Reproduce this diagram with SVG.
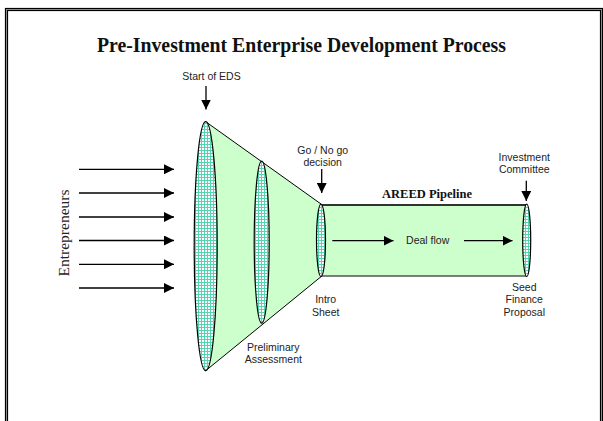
<svg xmlns="http://www.w3.org/2000/svg" width="603" height="421" viewBox="0 0 603 421">
<defs>
<pattern id="grid" width="3" height="3" patternUnits="userSpaceOnUse">
<rect width="3" height="3" fill="#ffffff"/>
<path d="M0 0.5H3M0.5 0V3" stroke="#55d4b0" stroke-width="1"/>
</pattern>
<marker id="ah" viewBox="0 0 10 10" refX="10" refY="5" markerWidth="10" markerHeight="10" markerUnits="userSpaceOnUse" orient="auto">
<path d="M0 0L10 5L0 10Z" fill="#000"/>
</marker>
</defs>
<style>
.lbl{font-family:"Liberation Sans",Arial,sans-serif;font-size:10.5px;fill:#222;text-anchor:middle}
.ttl{font-family:"Liberation Serif","Times New Roman",serif;font-weight:bold;fill:#111;text-anchor:middle}
.arr{stroke:#000;stroke-width:1.3;fill:none;marker-end:url(#ah)}
.ell{fill:url(#grid);stroke:#000;stroke-width:1.2}
</style>
<rect width="603" height="421" fill="#fff"/>
<g id="frame">
<rect x="6.5" y="9.5" width="595" height="420" fill="none" stroke="#000" stroke-width="3.2"/>
<rect x="6.5" y="9.5" width="595" height="420" fill="none" stroke="#888" stroke-width="1"/>
</g>
<g id="title"><text class="ttl" x="301.5" y="52" font-size="20" textLength="409" lengthAdjust="spacingAndGlyphs">Pre-Investment Enterprise Development Process</text></g>
<g id="funnel">
<path d="M205.7 121.7L321 204V276.7L205.7 370.7Z" fill="#ccffcc" stroke="#000" stroke-width="1"/>
</g>
<g id="pipeline">
<rect x="321" y="205" width="205.7" height="71" fill="#ccffcc"/>
<line x1="321" y1="205" x2="526.7" y2="205" stroke="#333" stroke-width="2"/>
<line x1="321" y1="276" x2="526.7" y2="276" stroke="#555" stroke-width="1.5"/>
<text class="ttl" x="427" y="198" font-size="12.5">AREED Pipeline</text>
</g>
<g id="stage-start"><ellipse class="ell" cx="205.7" cy="246.2" rx="11.5" ry="124.5"/></g>
<g id="stage-preliminary"><ellipse class="ell" cx="261.7" cy="242.2" rx="7.5" ry="81"/></g>
<g id="stage-intro"><ellipse class="ell" cx="321" cy="240.3" rx="4.5" ry="36.3"/></g>
<g id="stage-seed"><ellipse class="ell" cx="526.7" cy="240.3" rx="4" ry="36.3"/></g>
<g id="connectors">
<line class="arr" x1="79" y1="169.3" x2="174" y2="169.3"/>
<line class="arr" x1="79" y1="193" x2="174" y2="193"/>
<line class="arr" x1="79" y1="217" x2="174" y2="217"/>
<line class="arr" x1="79" y1="240.5" x2="174" y2="240.5"/>
<line class="arr" x1="79" y1="264.3" x2="174" y2="264.3"/>
<line class="arr" x1="79" y1="288" x2="174" y2="288"/>
<line class="arr" x1="206" y1="86" x2="206" y2="109.5"/>
<line class="arr" x1="321.7" y1="169" x2="321.7" y2="193"/>
<line class="arr" x1="526.3" y1="180.7" x2="526.3" y2="201"/>
<line class="arr" x1="332.3" y1="240.7" x2="393.5" y2="240.7"/>
<line class="arr" x1="464" y1="240.7" x2="512.5" y2="240.7"/>
</g>
<g id="labels">
<text x="63.3" y="233" transform="rotate(-90 63.3 233)" font-family="'Liberation Serif','Times New Roman',serif" font-size="15.5" fill="#222" text-anchor="middle" dominant-baseline="central">Entrepreneurs</text>
<text class="lbl" x="211.5" y="80">Start of EDS</text>
<text class="lbl" x="322.7" y="154">Go / No go</text>
<text class="lbl" x="322.7" y="165.5">decision</text>
<text class="lbl" x="524.3" y="160.7">Investment</text>
<text class="lbl" x="524.3" y="172.7">Committee</text>
<text class="lbl" x="427.7" y="244.3">Deal flow</text>
<text class="lbl" x="325.7" y="303">Intro</text>
<text class="lbl" x="325.7" y="315.5">Sheet</text>
<text class="lbl" x="524.3" y="290.7">Seed</text>
<text class="lbl" x="524.3" y="303.2">Finance</text>
<text class="lbl" x="524.3" y="315.7">Proposal</text>
<text class="lbl" x="273.3" y="350.7">Preliminary</text>
<text class="lbl" x="273.3" y="362.7">Assessment</text>
</g>
</svg>
